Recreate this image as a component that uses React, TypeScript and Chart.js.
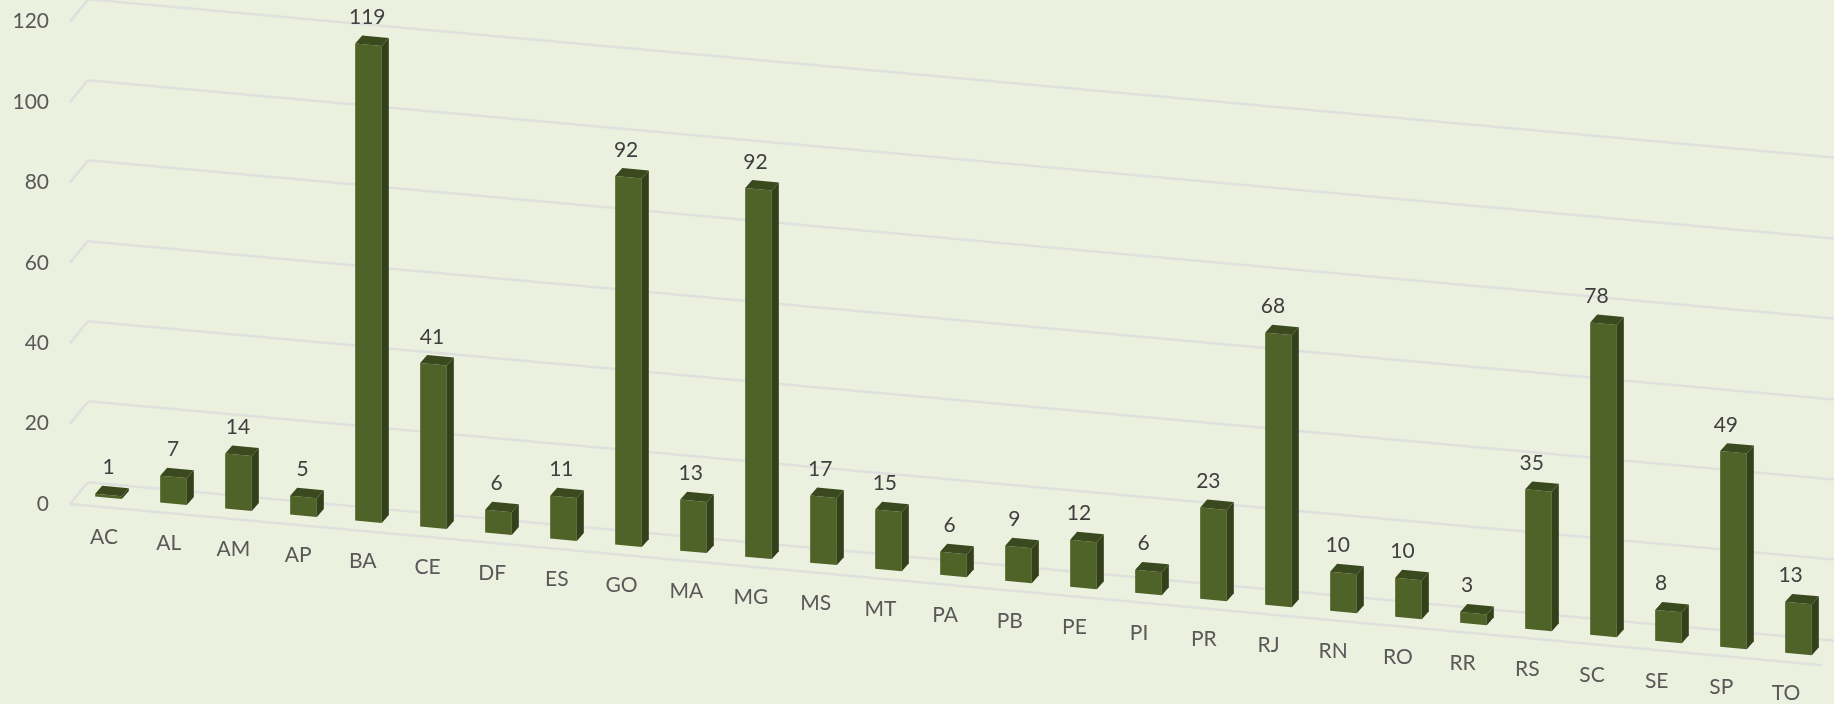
import React, { useEffect, useRef } from "react";
import { Chart, CategoryScale, registerables } from "chart.js";

const categories = ["AC","AL","AM","AP","BA","CE","DF","ES","GO","MA","MG","MS","MT","PA","PB","PE","PI","PR","RJ","RN","RO","RR","RS","SC","SE","SP","TO"];
const seriesValues = [1,7,14,5,119,41,6,11,92,13,92,17,15,6,9,12,6,23,68,10,10,3,35,78,8,49,13];
const yTicks = [0,20,40,60,80,100,120];

const FRONT = "#4f6228";
const SIDE = "#33401a";
const TOP = "#3b4a1e";
const GRID = "#dfe0dd";
const BG = "#ebf0df";
const AXIS_TEXT = "#595959";
const DATA_TEXT = "#404040";
const FONT = "Lato";

const BAR_K = 0.0925;
const WALL_K = 0.0906;
const FLOOR_K = 0.092;
const FIRST_X = 108.5;
const TEXT_DRIFT = 0.0047;
const DEPTH_X = 7;
const DEPTH_Y = 8.6;

class SkewCategoryScale extends CategoryScale {
  static id = "skewCategory";
  static defaults = CategoryScale.defaults;
  _computeLabelItems(area: any) {
    const items = (super._computeLabelItems as any)(area);
    for (const item of items) {
      const [x, y] = item.options.translation;
      item.options.translation = [x - 4.5 - TEXT_DRIFT * (x - FIRST_X), y + BAR_K * (x - FIRST_X)];
    }
    return items;
  }
}
Chart.register(...registerables, SkewCategoryScale as any);

const skewPlugin = {
  id: "skew3d",
  beforeDraw(chart: any) {
    const { ctx, chartArea } = chart;
    ctx.save();
    ctx.transform(1, WALL_K, 0, 1, 12, -22 - WALL_K * chartArea.left);
  },
  beforeDatasetsDraw(chart: any) {
    const { ctx, scales } = chart;
    ctx.restore();
    ctx.save();
    ctx.strokeStyle = GRID;
    ctx.lineWidth = 2.5;
    for (const v of yTicks) {
      const py = scales.y.getPixelForValue(v);
      ctx.beginPath();
      ctx.moveTo(70, py);
      ctx.lineTo(88, py - 22);
      ctx.stroke();
    }
    const y0 = scales.y.getPixelForValue(0);
    ctx.beginPath();
    ctx.moveTo(70, y0);
    ctx.lineTo(1822, y0 + FLOOR_K * 1752);
    ctx.stroke();
    ctx.restore();
    ctx.save();
    ctx.transform(1, BAR_K, 0, 1, 0, -5 - BAR_K * FIRST_X);
  },
  afterDatasetsDraw(chart: any) {
    const { ctx } = chart;
    const bars = chart.getDatasetMeta(0).data;
    const dx = DEPTH_X;
    const dy = DEPTH_Y;
    for (const b of bars) {
      const l = b.x - b.width / 2;
      const r = b.x + b.width / 2;
      ctx.fillStyle = SIDE;
      ctx.beginPath();
      ctx.moveTo(r, b.base);
      ctx.lineTo(r + dx, b.base - dy);
      ctx.lineTo(r + dx, b.y - dy);
      ctx.lineTo(r, b.y);
      ctx.closePath();
      ctx.fill();
      ctx.fillStyle = TOP;
      ctx.beginPath();
      ctx.moveTo(l, b.y);
      ctx.lineTo(l + dx, b.y - dy);
      ctx.lineTo(r + dx, b.y - dy);
      ctx.lineTo(r, b.y);
      ctx.closePath();
      ctx.fill();
    }
    ctx.restore();
    ctx.save();
    ctx.font = `21px ${FONT}`;
    ctx.fillStyle = DATA_TEXT;
    ctx.textAlign = "center";
    ctx.textBaseline = "middle";
    bars.forEach((b: any, i: number) => {
      const top = b.y - 5 + BAR_K * (b.x - FIRST_X);
      ctx.fillText(String(seriesValues[i]), b.x - TEXT_DRIFT * (b.x - FIRST_X), top - 27.5);
    });
    ctx.restore();
  },
};

export default function App() {
  const ref = useRef<HTMLCanvasElement | null>(null);
  useEffect(() => {
    document.body.style.margin = "0";
    const chart = new Chart(ref.current as HTMLCanvasElement, {
      type: "bar",
      data: {
        labels: categories,
        datasets: [{
          data: seriesValues,
          backgroundColor: FRONT,
          barPercentage: 0.41,
          categoryPercentage: 1,
          clip: false as any,
        }],
      },
      options: {
        animation: false,
        responsive: false,
        layout: { padding: { left: 0, top: 21.6, right: 3, bottom: 0 } },
        plugins: { legend: { display: false }, tooltip: { enabled: false } },
        scales: {
          x: {
            type: "skewCategory" as any,
            offset: true,
            afterFit: (s: any) => { s.height = 200; s.paddingLeft = 0; s.paddingRight = 0; },
            grid: { display: false, drawTicks: false, tickLength: 0 },
            border: { display: false },
            ticks: {
              z: 1, autoSkip: false, maxRotation: 0, minRotation: 0, padding: 20.4,
              color: AXIS_TEXT, font: { family: FONT, size: 21 },
            },
          },
          y: {
            min: 0,
            max: 120,
            afterFit: (s: any) => { s.width = 76; s.paddingTop = 0; s.paddingBottom = 0; },
            afterBuildTicks: (s: any) => { s.ticks = yTicks.map((value) => ({ value })); },
            grid: { color: GRID, lineWidth: 2.5, drawTicks: false, tickLength: 0, z: -1 },
            border: { display: false },
            ticks: {
              z: 1, padding: 27, color: AXIS_TEXT, font: { family: FONT, size: 21 },
            },
          },
        },
      },
      plugins: [skewPlugin as any],
    });
    return () => chart.destroy();
  }, []);
  return (
    <canvas
      ref={ref}
      width={1834}
      height={704}
      style={{ display: "block", width: 1834, height: 704, background: BG }}
    />
  );
}
